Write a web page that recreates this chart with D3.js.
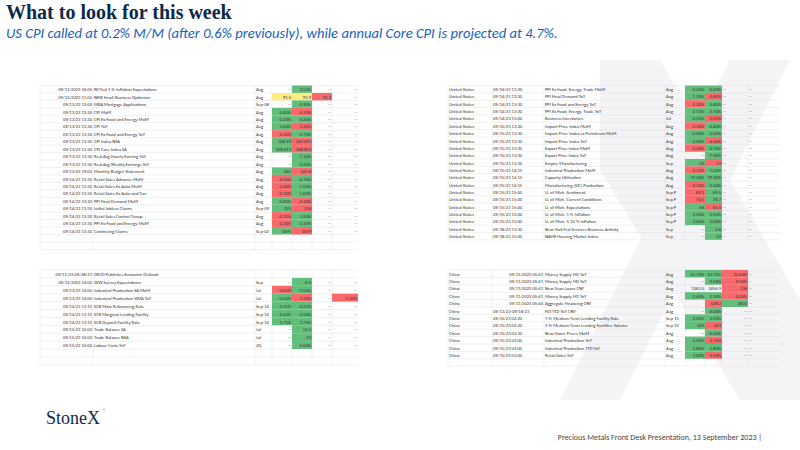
<!DOCTYPE html>
<html><head><meta charset="utf-8">
<script src="https://cdn.jsdelivr.net/npm/d3@7"></script>
<style>body{margin:0;background:#fff}</style>
</head><body>
<svg id="s" width="800" height="450"></svg>
<script>
// rows: [date, event, period, actual, prior, revised, forecast], colours per value cell
const usLeft = [
  ["09/11/2023 16:00","NY Fed 1-Yr Inflation Expectations","Aug","--","3.55%","--","--"],
  ["09/12/2023 11:00","NFIB Small Business Optimism","Aug","91.5","91.9","91.3","--"],
  ["09/13/23 12:00","MBA Mortgage Applications","Sep-08","--","-2.90%","--","--"],
  ["09/13/23 13:30","CPI MoM","Aug","0.60%","0.20%","--","--"],
  ["09/13/23 13:30","CPI Ex Food and Energy MoM","Aug","0.20%","0.20%","--","--"],
  ["09/13/23 13:30","CPI YoY","Aug","3.60%","3.20%","--","--"],
  ["09/13/23 13:30","CPI Ex Food and Energy YoY","Aug","4.30%","4.70%","--","--"],
  ["09/13/23 13:30","CPI Index NSA","Aug","306.99","305.691","--","--"],
  ["09/13/23 13:30","CPI Core Index SA","Aug","309.413","308.801","--","--"],
  ["09/13/23 13:30","Real Avg Hourly Earning YoY","Aug","--","1.10%","--","--"],
  ["09/13/23 13:30","Real Avg Weekly Earnings YoY","Aug","--","0.20%","--","--"],
  ["09/13/23 19:00","Monthly Budget Statement","Aug","245","220.8","--","--"],
  ["09/14/23 13:30","Retail Sales Advance MoM","Aug","0.10%","0.70%","--","--"],
  ["09/14/23 13:30","Retail Sales Ex Auto MoM","Aug","0.40%","1.00%","--","--"],
  ["09/14/23 13:30","Retail Sales Ex Auto and Gas","Aug","-0.10%","1.00%","--","--"],
  ["09/14/23 13:30","PPI Final Demand MoM","Aug","0.40%","0.30%","--","--"],
  ["09/14/23 13:30","Initial Jobless Claims","Sep-09","225","216","--","--"],
  ["09/14/23 13:30","Retail Sales Control Group","Aug","-0.10%","1.00%","--","--"],
  ["09/14/23 13:30","PPI Ex Food and Energy MoM","Aug","0.20%","0.30%","--","--"],
  ["09/14/23 13:30","Continuing Claims","Sep-02","1695","1679","--","--"]
];
const usLeftColors = ["-g--","yyr-","-g--","gr--","gg--","gr--","rg--","gr--","gr--","-g--","-g--","gr--","rg--","rg--","rg--","gr--","gr--","rg--","rg--","gr--"];

const usRight = [
  ["United States","09/14/23 13:30","PPI Ex Food, Energy, Trade MoM","Aug","0.20%","0.20%","--","--"],
  ["United States","09/14/23 13:30","PPI Final Demand YoY","Aug","1.30%","0.80%","--","--"],
  ["United States","09/14/23 13:30","PPI Ex Food and Energy YoY","Aug","2.20%","2.40%","--","--"],
  ["United States","09/14/23 13:30","PPI Ex Food, Energy, Trade YoY","Aug","2.70%","2.70%","--","--"],
  ["United States","09/14/23 15:00","Business Inventories","Jul","0.10%","0.00%","--","--"],
  ["United States","09/15/23 13:30","Import Price Index MoM","Aug","0.30%","0.40%","--","--"],
  ["United States","09/15/23 13:30","Import Price Index ex Petroleum MoM","Aug","0.00%","0.00%","--","--"],
  ["United States","09/15/23 13:30","Import Price Index YoY","Aug","-2.90%","-4.40%","--","--"],
  ["United States","09/15/23 13:30","Export Price Index MoM","Aug","0.30%","0.70%","--","--"],
  ["United States","09/15/23 13:30","Export Price Index YoY","Aug","--","-7.90%","--","--"],
  ["United States","09/15/23 13:30","Empire Manufacturing","Sep","-10","-19","--","--"],
  ["United States","09/15/23 14:15","Industrial Production MoM","Aug","0.10%","1.00%","--","--"],
  ["United States","09/15/23 14:15","Capacity Utilization","Aug","79.30%","79.30%","--","--"],
  ["United States","09/15/23 14:15","Manufacturing (SIC) Production","Aug","0.10%","0.50%","--","--"],
  ["United States","09/15/23 15:00","U. of Mich. Sentiment","Sep P","69.1","69.5","--","--"],
  ["United States","09/15/23 15:00","U. of Mich. Current Conditions","Sep P","74.5","76.7","--","--"],
  ["United States","09/15/23 15:00","U. of Mich. Expectations","Sep P","66","65.5","--","--"],
  ["United States","09/15/23 15:00","U. of Mich. 1 Yr Inflation","Sep P","3.50%","3.50%","--","--"],
  ["United States","09/15/23 15:00","U. of Mich. 5-10 Yr Inflation","Sep P","3.00%","3.00%","--","--"],
  ["United States","09/18/23 13:30","New York Fed Services Business Activity","Sep","--","0.6","--","--"],
  ["United States","09/18/23 15:00","NAHB Housing Market Index","Sep","--","50","--","--"]
];
const usRightColors = ["gg--","gr--","rg--","gg--","gr--","rg--","gg--","gr--","rg--","-g--","gr--","rg--","gg--","rg--","rg--","rg--","gr--","gg--","gg--","-g--","-g--"];

const euLeft = [
  ["09/11/23-09/28/23","OECD Publishes Economic Outlook","","","","",""],
  ["09/12/2023 10:00","ZEW Survey Expectations","Sep","--","-8.5","--","--"],
  ["09/13/23 10:00","Industrial Production SA MoM","Jul","-0.60%","0.50%","--","--"],
  ["09/13/23 10:00","Industrial Production WDA YoY","Jul","-0.50%","-1.20%","--","-1.20%"],
  ["09/14/23 13:15","ECB Main Refinancing Rate","Sep-14","4.25%","4.25%","--","--"],
  ["09/14/23 13:15","ECB Marginal Lending Facility","Sep-14","4.50%","4.50%","--","--"],
  ["09/14/23 13:15","ECB Deposit Facility Rate","Sep-14","3.75%","3.75%","--","--"],
  ["09/15/23 10:00","Trade Balance SA","Jul","--","12.5","--","--"],
  ["09/15/23 10:00","Trade Balance NSA","Jul","--","23","--","--"],
  ["09/15/23 10:00","Labour Costs YoY","2Q","--","5.00%","--","--"]
];
const euLeftColors = ["----","-g--","rg--","gr-r","gg--","gg--","gg--","-g--","-g--","-g--"];

const cnRight = [
  ["China","09/11/2023 05:41","Money Supply M2 YoY","Aug","10.70%","10.70%","10.60%","--"],
  ["China","09/11/2023 05:41","Money Supply M0 YoY","Aug","--","9.50%","9.50%","--"],
  ["China","09/11/2023 05:41","New Yuan Loans CNY","Aug","1262.0","3456.9","136","--"],
  ["China","09/11/2023 05:41","Money Supply M1 YoY","Aug","2.40%","2.30%","0.00%","--"],
  ["China","09/11/2023 05:44","Aggregate Financing CNY","Aug","","528.2","2630","--"],
  ["China","09/13/23-09/18/23","FDI YTD YoY CNY","Aug","--","-4.00%","--","--"],
  ["China","09/15/23 02:20","1-Yr Medium-Term Lending Facility Rate","Sep-15","2.50%","2.50%","--","--"],
  ["China","09/15/23 02:20","1-Yr Medium-Term Lending Facilities Volume","Sep-15","420","401","--","--"],
  ["China","09/15/23 02:30","New Home Prices MoM","Aug","--","-0.20%","--","--"],
  ["China","09/15/23 03:00","Industrial Production YoY","Aug","3.90%","3.70%","--","--"],
  ["China","09/15/23 03:00","Industrial Production YTD YoY","Aug","3.80%","3.80%","--","--"],
  ["China","09/15/23 03:00","Retail Sales YoY","Aug","3.00%","2.50%","--","--"]
];
const cnRightColors = ["ggr-","-gr-","--r-","ggr-","-rg-","-g--","gg--","gr--","-g--","gr--","gg--","gr--"];

const fillOf = {g:"#63be7b", r:"#f8696b", y:"#ffeb84"};
const svg = d3.select("#s");
const font = "Calibri, 'Liberation Sans', Arial, sans-serif";

// watermark X
const wm = svg.append("g").attr("fill","#f4f4f7");
wm.append("polygon").attr("points","600,60 660,60 800,300 800,400 740,400 600,170");
wm.append("polygon").attr("points","790,60 730,60 560,400 620,400");

svg.append("text").attr("x",6).attr("y",19).attr("font-family","'Liberation Serif', serif")
  .attr("font-weight","bold").attr("font-size",20).attr("fill","#0b2a4a").text("What to look for this week");
svg.append("text").attr("x",6).attr("y",38).attr("font-family",font).attr("font-style","italic")
  .attr("font-size",14.6).attr("fill","#2060c0")
  .text("US CPI called at 0.2% M/M (after 0.6% previously), while annual Core CPI is projected at 4.7%.");

// draws a sheet-like table: cols = [{x0,x1,align}], lines count
function table(rows, colors, cols, top, nLines, rowH, valueStart) {
  const g = svg.append("g").attr("font-family", font).attr("font-size", 4.6).attr("fill", "#333");
  const x0 = cols[0].x0, x1 = cols[cols.length - 1].x1;
  const y = d3.scaleLinear().domain([0, 1]).range([top, top + rowH]);
  for (let i = 0; i <= nLines; i++) {
    g.append("line").attr("x1", x0).attr("x2", x1).attr("y1", y(i)).attr("y2", y(i))
      .attr("stroke", "#dcdcdc").attr("stroke-width", 0.4);
  }
  cols.forEach(c => g.append("line").attr("x1", c.x0).attr("x2", c.x0)
    .attr("y1", top).attr("y2", y(nLines)).attr("stroke", "#dcdcdc").attr("stroke-width", 0.4));
  rows.forEach((r, i) => {
    r.forEach((v, j) => {
      const c = cols[j];
      if (j >= valueStart) {
        const col = colors[i][j - valueStart];
        if (fillOf[col]) g.append("rect").attr("x", c.x0).attr("y", y(i)).attr("width", c.x1 - c.x0)
          .attr("height", rowH).attr("fill", fillOf[col]);
      }
      if (v === "") return;
      const tx = c.align === "end" ? c.x1 - 1 : c.x0 + 1;
      g.append("text").attr("x", tx).attr("y", y(i) + rowH - 1.8).attr("text-anchor", c.align)
        .attr("fill", "#333").text(v);
    });
  });
}

const leftCols = [
  {x0:40,x1:93,align:"end"},{x0:93,x1:255,align:"start"},{x0:255,x1:272,align:"start"},
  {x0:272,x1:292,align:"end"},{x0:292,x1:312,align:"end"},{x0:312,x1:332,align:"end"},{x0:332,x1:358,align:"end"}
];
const rightCols = [
  {x0:448,x1:492,align:"start"},{x0:492,x1:544,align:"start"},{x0:544,x1:665,align:"start"},{x0:665,x1:685,align:"start"},
  {x0:685,x1:705,align:"end"},{x0:705,x1:722,align:"end"},{x0:722,x1:748,align:"start"},{x0:748,x1:780,align:"start"}
];

table(usLeft, usLeftColors, leftCols, 85.5, 22, 7.45, 3);
table(usRight, usRightColors, rightCols, 85.5, 21, 7.35, 4);
table(euLeft, euLeftColors, leftCols, 270, 12, 7.9, 3);
table(cnRight, cnRightColors,
  rightCols.map((c, i) => i === 6 ? {x0:722,x1:748,align:"end"} : c), 270, 13, 7.4, 4);
// full-year China dates are right-aligned in the sheet
svg.selectAll("text").filter(function(){ return /^09\/11\/2023/.test(this.textContent) && +this.getAttribute("x") > 480; })
  .attr("x", 543).attr("text-anchor", "end");

svg.append("text").attr("x",46).attr("y",424).attr("font-family","'Liberation Serif', serif")
  .attr("font-size",18).attr("fill","#0b2a4a").text("StoneX");
svg.append("text").attr("x",103).attr("y",413).attr("font-family",font).attr("font-size",5).attr("fill","#0b2a4a").text("®");
svg.append("text").attr("x",762).attr("y",440).attr("text-anchor","end").attr("font-family",font)
  .attr("font-size",8).attr("fill","#444").text("Precious Metals Front Desk Presentation, 13 September 2023 |");
</script>
</body></html>
